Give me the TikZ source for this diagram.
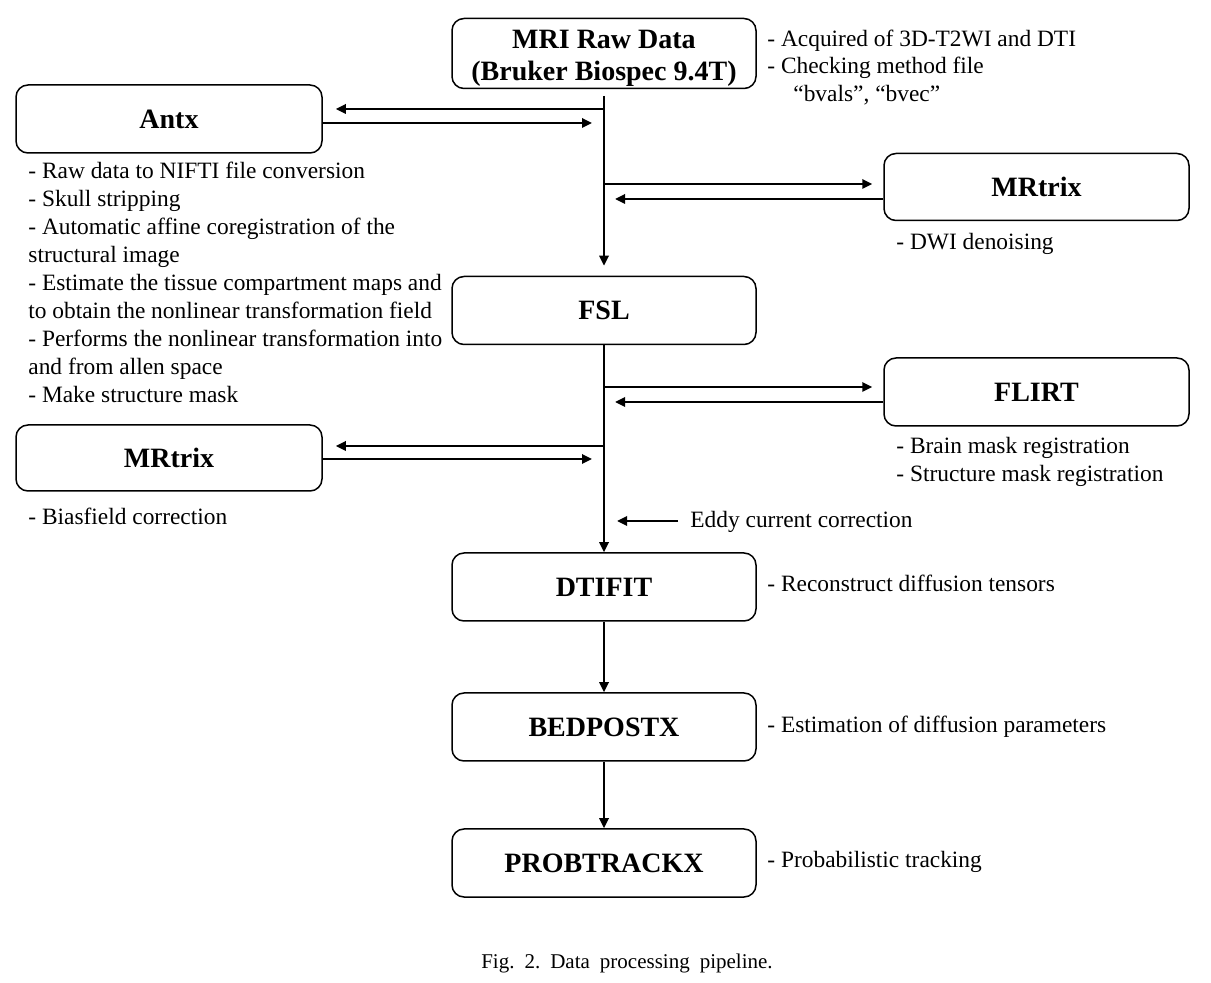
\documentclass[tikz,border=0pt]{standalone}
\usepackage{fontspec}
\setmainfont{Liberation Serif}
\usetikzlibrary{arrows.meta}
\begin{document}
\begin{tikzpicture}[x=0.5pt,y=-0.5pt,
  box/.style={draw, line width=0.75pt, rounded corners=6pt, minimum width=152pt, minimum height=34pt, inner sep=0pt, font=\fontsize{14}{16}\selectfont\bfseries, align=center},
  arr/.style={line width=1.3pt, -{Triangle[length=5pt,width=4.6pt]}},
  note/.style={anchor=base west, inner sep=0pt, font=\fontsize{11.7}{14}\selectfont},
  captxt/.style={anchor=base, inner sep=0pt, font=\fontsize{10.5}{12}\selectfont}]
\useasboundingbox (0,0) rectangle (1211,983);
% boxes
\node[box, minimum height=35pt] (mri) at (604,53.5) {\rule{0pt}{13.5pt}MRI Raw Data\\(Bruker Biospec 9.4T)};
\node[box, minimum width=153pt] (antx) at (169,119) {Antx};
\node[box, minimum width=152.5pt, minimum height=33.5pt] (mrtr) at (1036.5,187) {MRtrix};
\node[box] (fsl) at (604,310.5) {FSL};
\node[box, minimum width=152.5pt] (flirt) at (1036.5,392) {FLIRT};
\node[box, minimum width=153pt, minimum height=33pt] (mrtl) at (169,458) {MRtrix};
\node[box] (dtifit) at (604,587) {DTIFIT};
\node[box] (bedpostx) at (604,727) {BEDPOSTX};
\node[box] (probtrackx) at (604,863) {PROBTRACKX};
% notes
\node[note] (n1) at (767,47) {- Acquired of 3D-T2WI and DTI};
\node[note] (n2) at (767,74) {- Checking method file};
\node[note] (n3) at (793,102) {“bvals”, “bvec”};
\node[note] (a1) at (28,179) {- Raw data to NIFTI file conversion};
\node[note] (a2) at (28,207) {- Skull stripping};
\node[note] (a3) at (28,235) {- Automatic affine coregistration of the};
\node[note] (a4) at (28,263) {structural image};
\node[note] (a5) at (28,291) {- Estimate the tissue compartment maps and};
\node[note] (a6) at (28,319) {to obtain the nonlinear transformation field};
\node[note] (a7) at (28,347) {- Performs the nonlinear transformation into};
\node[note] (a8) at (28,375) {and from allen space};
\node[note] (a9) at (28,403) {- Make structure mask};
\node[note] (m1) at (896,250) {- DWI denoising};
\node[note] (f1) at (896,454) {- Brain mask registration};
\node[note] (f2) at (896,482) {- Structure mask registration};
\node[note] (b1) at (28,525) {- Biasfield correction};
\node[note] (eddy) at (690,528) {Eddy current correction};
\node[note] (d1) at (767,592) {- Reconstruct diffusion tensors};
\node[note] (e1) at (767,733) {- Estimation of diffusion parameters};
\node[note] (p1) at (767,868) {- Probabilistic tracking};
\node[captxt] (caption) at (627,968) {Fig.\hspace{5pt}2.\hspace{5pt}Data\hspace{5pt}processing\hspace{5pt}pipeline.};
% trunk
\coordinate (top) at (604,96);
\draw[arr, shorten >=5pt] (top) -- (fsl.north);
\draw[arr] (fsl.south) -- (dtifit.north);
\draw[arr] (dtifit.south) -- (bedpostx.north);
\draw[arr] (bedpostx.south) -- (probtrackx.north);
% antx
\coordinate (ta1) at (604,109);
\coordinate (ta2) at (604,123);
\draw[arr, shorten >=6.5pt] (ta1) -- (antx.east |- ta1);
\draw[arr, shorten >=6pt] (antx.east |- ta2) -- (ta2);
% mrtrix right
\coordinate (tm1) at (604,184);
\coordinate (tm2) at (604,199);
\draw[arr, shorten >=5.5pt] (tm1) -- (mrtr.west |- tm1);
\draw[arr, shorten >=5.5pt] (mrtr.west |- tm2) -- (tm2);
% flirt
\coordinate (tf1) at (604,387);
\coordinate (tf2) at (604,402);
\draw[arr, shorten >=5.5pt] (tf1) -- (flirt.west |- tf1);
\draw[arr, shorten >=5.5pt] (flirt.west |- tf2) -- (tf2);
% mrtrix left
\coordinate (tl1) at (604,446);
\coordinate (tl2) at (604,459);
\draw[arr, shorten >=6.5pt] (tl1) -- (mrtl.east |- tl1);
\draw[arr, shorten >=6pt] (mrtl.east |- tl2) -- (tl2);
% eddy
\coordinate (te) at (604,521);
\draw[arr, shorten <=6pt, shorten >=6.5pt] (eddy.west |- te) -- (te);
\end{tikzpicture}
\end{document}
